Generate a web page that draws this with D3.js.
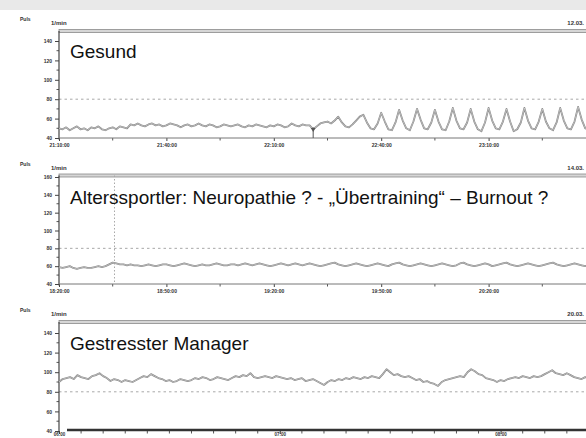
<!DOCTYPE html>
<html><head><meta charset="utf-8">
<script src="https://cdn.jsdelivr.net/npm/d3@7/dist/d3.min.js"></script>
<style>html,body{margin:0;padding:0;background:#fff;overflow:hidden}svg{display:block}</style>
</head><body>
<script>
// ---------- DATA ----------
const panelTitles = ["Gesund", "Alterssportler: Neuropathie ? - \u201EÜbertraining\u201C \u2013 Burnout ?", "Gestresster Manager"];
const yTickValues = [40, 60, 80, 100, 120, 140];
const yTickValues2 = [40, 60, 80, 100, 120, 140, 160];
const thresholdBpm = [80, 80, 80];
// Panel 1: heart rate (1/min), one sample per minute
const p1Values = [
 50,49,51,48,50,52,49,50,48,51,
 50,52,49,48,50,51,49,52,51,50,
 54,53,55,53,52,54,55,53,54,52,
 53,55,54,53,51,53,54,52,53,55,
 53,52,54,53,51,52,54,53,52,53,
 54,52,51,53,52,54,53,52,51,53,
 52,54,53,51,52,55,53,52,54,53,
 53,49,52,55,56,57,55,58,62,56,
 52,51,54,58,62,64,56,50,49,55,
 66,57,49,48,56,69,58,50,48,57,
 70,59,50,49,56,69,57,49,48,57,
 71,58,50,49,56,70,57,49,47,56,
 71,58,50,49,57,70,57,47,49,56,
 71,58,50,49,57,70,57,50,48,56,
 71,58,50,49,57,72,59,50,49,57];
// Panel 2
const p2Values = [
 59,58,59,60,58,57,58,59,58,58,
 59,60,59,60,62,64,63,62,62,61,
 62,61,61,60,61,62,61,60,61,62,
 62,61,60,61,62,63,62,61,60,61,
 62,61,61,62,63,62,61,61,62,62,
 61,62,63,62,61,62,63,62,61,60,
 61,62,63,62,61,62,63,62,61,62,
 63,62,61,60,61,62,63,64,62,61,
 60,61,62,63,62,61,60,61,62,63,
 62,61,60,62,63,64,62,61,60,61,
 62,63,62,61,60,61,62,63,62,61,
 60,61,63,64,62,61,60,61,62,63,
 62,60,61,62,63,64,62,61,60,61,
 62,63,62,61,60,61,62,63,64,62,
 61,60,61,62,63,62,61,60,61,62];
// Panel 3
const p3Values = [
 90,93,94,95,93,97,95,94,93,96,
 97,99,96,94,91,93,92,90,92,91,
 90,92,94,96,95,98,96,94,93,91,
 92,90,91,93,92,91,92,94,93,95,
 94,92,93,95,94,93,92,94,96,95,
 97,96,99,95,94,95,96,95,94,96,
 95,94,93,94,92,93,94,91,92,93,
 91,89,87,90,92,91,93,92,94,93,
 95,94,93,95,94,96,95,94,98,103,
 100,97,98,96,95,96,94,92,93,90,
 91,89,88,86,90,92,93,94,95,96,
 95,100,103,101,98,97,94,93,92,90,
 92,91,93,94,95,94,96,95,94,96,
 95,96,98,100,102,99,98,97,99,97,
 95,94,93,95,94,96];
const p1TimeLabels = ["21:10:00","21:40:00","22:10:00","22:40:00","23:10:00"];
const p2TimeLabels = ["18:20:00","18:50:00","19:20:00","19:50:00","20:20:00"];
const p3TimeLabels = ["06:00","07:00","08:00"];
const p1Markers = [71];
const p2VerticalLine = [15.5];
const unitLabel = "1/min";
const axisName = "Puls";
const headerRight = ["12.03.", "14.03.", "20.03."];

// ---------- LAYOUT ----------
const W = 586, H = 438;
const svg = d3.select("body").append("svg").attr("width", W).attr("height", H);
svg.append("rect").attr("x",0).attr("y",0).attr("width",W).attr("height",10).attr("fill","#e9e9e9");

const panels = [
  {values:p1Values, top:31, bottom:138, yLow:138, yHigh:41, ticks:yTickValues, xEnd:596, tEnd:150, tTick:120, major:30, minor:15, labels:p1TimeLabels, titleY:58, thick:false, labY:5, labSize:5},
  {values:p2Values, top:175.5, bottom:284, yLow:284, yHigh:177, ticks:yTickValues2, xEnd:596, tEnd:150, tTick:120, major:30, minor:15, labels:p2TimeLabels, titleY:204, thick:false, labY:5, labSize:5},
  {values:p3Values, top:322, bottom:431, yLow:431, yHigh:333, ticks:yTickValues, xEnd:596.3, tEnd:146, tTick:120, major:60, minor:6, labels:p3TimeLabels, titleY:350, thick:true, labY:2.2, labSize:4.5}
];
const X0 = 59;
const smallFont = "Liberation Sans, Arial, sans-serif";

panels.forEach((p, i) => {
  const g = svg.append("g");
  const yMax = p.ticks[p.ticks.length-1];
  const y = d3.scaleLinear().domain([40, yMax]).range([p.yLow, p.yHigh]);
  const x = d3.scaleLinear().domain([0, p.tEnd]).range([X0, p.xEnd]);

  // top double border
  g.append("rect").attr("x", X0).attr("y", p.top-1.5).attr("width", W).attr("height", 3)
    .attr("fill", "#d6d6d6").attr("stroke", "#8a8a8a").attr("stroke-width", 0.8);

  // header texts
  g.append("text").attr("x", 20).attr("y", p.top-10).text(axisName)
    .attr("font-family", smallFont).attr("font-size", 5).attr("font-weight","bold").attr("fill","#333");
  g.append("text").attr("x", 51).attr("y", p.top-6).text(unitLabel)
    .attr("font-family", smallFont).attr("font-size", 6).attr("font-weight","bold").attr("fill","#333");
  g.append("text").attr("x", 584).attr("y", p.top-6).attr("text-anchor","end").text(headerRight[i])
    .attr("font-family", smallFont).attr("font-size", 6).attr("font-weight","bold").attr("fill","#333");

  // threshold dashed line
  g.append("line").attr("x1", X0).attr("x2", W).attr("y1", y(thresholdBpm[i])).attr("y2", y(thresholdBpm[i]))
    .attr("stroke", "#a8a8a8").attr("stroke-width", 1).attr("stroke-dasharray", "2.5,3");

  if (i === 1) {
    p2VerticalLine.forEach(t => {
      g.append("line").attr("x1", x(t)).attr("x2", x(t)).attr("y1", p.top).attr("y2", p.bottom)
        .attr("stroke", "#a8a8a8").attr("stroke-width", 1).attr("stroke-dasharray", "1.5,2");
    });
  }

  // y axis
  const yAxis = d3.axisLeft(y).tickValues(p.ticks).tickSize(4).tickFormat(d3.format("d"));
  const ya = g.append("g").attr("transform", `translate(${X0},0)`).call(yAxis);
  ya.select(".domain").remove();
  ya.selectAll("line").attr("stroke", "#444");
  ya.selectAll("text").attr("font-family", smallFont).attr("font-size", 5).attr("font-weight","bold").attr("fill","#333").attr("x", -7);
  const minorY = d3.range(50, yMax, 20);
  g.selectAll(null).data(minorY).enter().append("line")
    .attr("x1", X0-2.5).attr("x2", X0).attr("y1", d=>y(d)).attr("y2", d=>y(d)).attr("stroke","#555");
  g.append("line").attr("x1", X0).attr("x2", X0).attr("y1", p.top).attr("y2", p.bottom+1.5)
    .attr("stroke", "#444").attr("stroke-width", 1.2);

  // x axis
  const majorT = d3.range(0, p.tTick+0.01, p.major);
  const xAxis = d3.axisBottom(x).tickValues(majorT).tickSize(3).tickFormat((d,k)=>p.labels[k]||"");
  const xa = g.append("g").attr("transform", `translate(0,${p.bottom})`).call(xAxis);
  xa.select(".domain").remove();
  xa.selectAll("line").attr("stroke", "#444");
  xa.selectAll("text").attr("font-family", smallFont).attr("font-size", p.labSize).attr("font-weight","bold").attr("fill","#333").attr("y", p.labY);
  const minorT = d3.range(0, p.tEnd+0.01, p.minor).filter(t => t % p.major !== 0 && x(t) < W);
  g.selectAll(null).data(minorT).enter().append("line")
    .attr("x1", d=>x(d)).attr("x2", d=>x(d)).attr("y1", p.bottom).attr("y2", p.bottom+2.5).attr("stroke","#555");
  if (p.thick) {
    g.append("line").attr("x1", 67).attr("x2", W).attr("y1", p.bottom-1).attr("y2", p.bottom-1)
      .attr("stroke", "#333").attr("stroke-width", 2.5);
  } else {
    g.append("line").attr("x1", X0).attr("x2", W).attr("y1", p.bottom).attr("y2", p.bottom)
      .attr("stroke", "#777").attr("stroke-width", 1);
  }

  // trace
  const line = d3.line().x((d,k)=>x(k)).y(d=>y(d));
  g.append("path").datum(p.values).attr("d", line).attr("fill","none")
    .attr("stroke","#858585").attr("stroke-width", 1.8).attr("stroke-linejoin","round");
  g.append("path").datum(p.values).attr("d", line).attr("fill","none")
    .attr("stroke","#dcdcdc").attr("stroke-width", 0.6).attr("stroke-linejoin","round");

  if (i === 0) {
    p1Markers.forEach(t => {
      g.append("line").attr("x1", x(t)).attr("x2", x(t)).attr("y1", y(p.values[t])-2).attr("y2", p.bottom)
        .attr("stroke","#555").attr("stroke-width", 1);
      g.append("path").attr("d", d3.symbol().type(d3.symbolTriangle).size(10)())
        .attr("transform", `translate(${x(t)},${y(p.values[t])}) rotate(180)`).attr("fill","#555");
    });
  }

  // title
  g.append("text").attr("x", 70).attr("y", p.titleY).text(panelTitles[i])
    .attr("font-family", "Liberation Sans, Arial, sans-serif").attr("font-size", 19).attr("fill", "#111");
});
</script>
</body></html>
